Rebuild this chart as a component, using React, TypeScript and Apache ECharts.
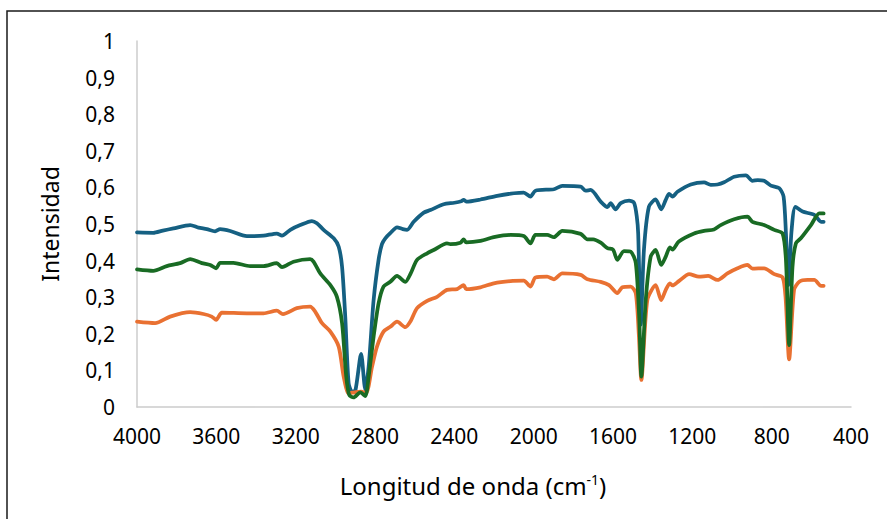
import React, { useEffect, useRef } from "react";
import * as echarts from "echarts";

// Spectra: [wavenumber (cm-1), intensity]
const serieAzul: [number, number][] = [
  [4000, 0.477], [3918, 0.476], [3870, 0.482], [3816, 0.488], [3732, 0.497], [3690, 0.490],
  [3648, 0.486], [3606, 0.480], [3581, 0.486], [3530, 0.481], [3446, 0.467], [3362, 0.468],
  [3295, 0.474], [3269, 0.468], [3227, 0.484], [3177, 0.497], [3118, 0.508], [3093, 0.502],
  [3059, 0.484], [3008, 0.461], [2983, 0.438], [2966, 0.383], [2950, 0.247], [2933, 0.065],
  [2916, 0.042], [2899, 0.045], [2870, 0.145], [2849, 0.048], [2832, 0.110], [2807, 0.292],
  [2782, 0.402], [2765, 0.445], [2748, 0.461], [2723, 0.475], [2689, 0.491], [2660, 0.486],
  [2638, 0.484], [2605, 0.506], [2554, 0.531], [2521, 0.538], [2454, 0.554], [2400, 0.558],
  [2365, 0.562], [2353, 0.566], [2340, 0.561], [2268, 0.567], [2184, 0.577], [2100, 0.584],
  [2050, 0.586], [2016, 0.575], [1991, 0.591], [1898, 0.595], [1856, 0.604], [1763, 0.602],
  [1738, 0.591], [1713, 0.593], [1662, 0.561], [1628, 0.546], [1612, 0.557], [1587, 0.540],
  [1561, 0.557], [1519, 0.564], [1494, 0.558], [1480, 0.520], [1473, 0.474], [1460, 0.225],
  [1444, 0.429], [1419, 0.547], [1385, 0.567], [1357, 0.540], [1334, 0.566], [1317, 0.582],
  [1300, 0.575], [1275, 0.588], [1208, 0.608], [1141, 0.614], [1107, 0.607], [1073, 0.608],
  [1040, 0.614], [989, 0.629], [930, 0.633], [897, 0.618], [870, 0.620], [838, 0.618],
  [804, 0.605], [762, 0.598], [740, 0.575], [728, 0.474], [716, 0.333], [700, 0.480],
  [680, 0.547], [644, 0.534], [585, 0.525], [551, 0.506], [538, 0.506],
];

const serieVerde: [number, number][] = [
  [4000, 0.376], [3918, 0.372], [3850, 0.385], [3783, 0.393], [3732, 0.404], [3673, 0.393],
  [3631, 0.388], [3601, 0.379], [3581, 0.394], [3514, 0.394], [3429, 0.385], [3362, 0.385],
  [3295, 0.393], [3269, 0.382], [3211, 0.397], [3127, 0.404], [3110, 0.397], [3076, 0.365],
  [3025, 0.333], [2992, 0.301], [2966, 0.229], [2945, 0.083], [2930, 0.033], [2908, 0.026],
  [2874, 0.040], [2849, 0.030], [2832, 0.083], [2807, 0.192], [2782, 0.283], [2757, 0.329],
  [2723, 0.342], [2689, 0.358], [2647, 0.342], [2620, 0.365], [2588, 0.402], [2537, 0.420],
  [2504, 0.429], [2437, 0.447], [2420, 0.445], [2369, 0.449], [2353, 0.458], [2340, 0.450],
  [2268, 0.454], [2201, 0.464], [2117, 0.470], [2050, 0.467], [2016, 0.447], [1991, 0.470],
  [1932, 0.470], [1898, 0.464], [1856, 0.481], [1763, 0.473], [1729, 0.458], [1700, 0.458],
  [1662, 0.449], [1628, 0.434], [1600, 0.430], [1578, 0.402], [1545, 0.426], [1510, 0.424],
  [1485, 0.393], [1468, 0.247], [1457, 0.083], [1435, 0.292], [1410, 0.411], [1385, 0.429],
  [1357, 0.388], [1334, 0.411], [1313, 0.436], [1300, 0.430], [1268, 0.452], [1191, 0.474],
  [1141, 0.481], [1091, 0.485], [1057, 0.497], [989, 0.513], [922, 0.520], [897, 0.506],
  [838, 0.497], [787, 0.484], [745, 0.474], [728, 0.402], [712, 0.169], [695, 0.383],
  [678, 0.447], [653, 0.461], [602, 0.497], [560, 0.529], [538, 0.529],
];

const serieNaranja: [number, number][] = [
  [4000, 0.233], [3909, 0.229], [3833, 0.247], [3732, 0.259], [3665, 0.254], [3623, 0.247],
  [3601, 0.238], [3572, 0.258], [3446, 0.256], [3362, 0.256], [3295, 0.263], [3264, 0.254],
  [3194, 0.270], [3127, 0.274], [3101, 0.260], [3067, 0.229], [3025, 0.206], [2983, 0.165],
  [2958, 0.083], [2933, 0.037], [2916, 0.039], [2870, 0.042], [2845, 0.038], [2815, 0.110],
  [2790, 0.165], [2757, 0.206], [2723, 0.219], [2689, 0.233], [2647, 0.218], [2620, 0.235],
  [2588, 0.270], [2537, 0.290], [2487, 0.301], [2437, 0.320], [2386, 0.322], [2353, 0.333],
  [2340, 0.322], [2268, 0.327], [2201, 0.338], [2117, 0.344], [2050, 0.345], [2016, 0.329],
  [1991, 0.354], [1932, 0.356], [1898, 0.349], [1856, 0.365], [1763, 0.361], [1729, 0.349],
  [1662, 0.342], [1620, 0.333], [1578, 0.311], [1553, 0.327], [1510, 0.329], [1485, 0.310],
  [1470, 0.200], [1457, 0.074], [1427, 0.292], [1385, 0.333], [1357, 0.292], [1334, 0.320],
  [1313, 0.338], [1300, 0.332], [1268, 0.344], [1216, 0.363], [1167, 0.356], [1120, 0.358],
  [1073, 0.347], [1023, 0.365], [972, 0.379], [922, 0.388], [897, 0.378], [838, 0.379],
  [787, 0.363], [745, 0.354], [730, 0.300], [712, 0.130], [687, 0.320], [661, 0.342],
  [619, 0.347], [585, 0.347], [551, 0.331], [538, 0.331],
];

const FONT = "'Noto Sans', 'Open Sans', sans-serif";

export default function App() {
  const ref = useRef<HTMLDivElement>(null);

  useEffect(() => {
    document.body.style.margin = "0";
    if (!ref.current) return;
    const chart = echarts.init(ref.current, null, { renderer: "svg" });

    const line = (name: string, data: [number, number][], color: string) => ({
      name,
      type: "line",
      data,
      showSymbol: false,
      smooth: 0.25,
      lineStyle: { color, width: 3.75, cap: "round", join: "round" },
      itemStyle: { color },
    });

    chart.setOption({
      animation: false,
      backgroundColor: "#ffffff",
      grid: { left: 137, right: 36, top: 41, bottom: 112 },
      xAxis: {
        type: "value",
        inverse: true,
        min: 400,
        max: 4000,
        interval: 400,
        axisLine: { show: true, lineStyle: { color: "#cccccc", width: 1.5 } },
        axisTick: { show: false },
        splitLine: { show: false },
        axisLabel: {
          color: "#000",
          fontSize: 21,
          fontFamily: FONT,
          margin: 18,
          formatter: (v: number) => String(v),
        },
        name: "Longitud de onda (cm{sup|-1})",
        nameLocation: "middle",
        nameGap: 65,
        nameTextStyle: {
          color: "#000",
          fontSize: 24,
          fontFamily: FONT,
          padding: [0, 42, 0, 0],
          rich: {
            sup: { fontSize: 14, fontFamily: FONT, color: "#000", verticalAlign: "top", padding: [0, 0, 12, 0] },
          },
        },
      },
      yAxis: {
        type: "value",
        min: 0,
        max: 1,
        interval: 0.1,
        axisLine: { show: true, lineStyle: { color: "#cccccc", width: 1.5 } },
        axisTick: { show: false },
        splitLine: { show: false },
        axisLabel: {
          color: "#000",
          fontSize: 21,
          fontFamily: FONT,
          margin: 22,
          formatter: (v: number) => String(Number(v.toFixed(1))).replace(".", ","),
        },
        name: "Intensidad",
        nameLocation: "middle",
        nameGap: 76,
        nameTextStyle: { color: "#000", fontSize: 23, fontFamily: FONT },
      },
      graphic: [
        {
          type: "rect",
          shape: { x: 7, y: 11, width: 2000, height: 2000 },
          style: { fill: "none", stroke: "#1a1a1a", lineWidth: 1.5 },
          silent: true,
        },
      ],
      series: [
        line("Muestra 1", serieAzul, "#156082"),
        line("Muestra 3", serieNaranja, "#E97132"),
        line("Muestra 2", serieVerde, "#196B24"),
      ],
    });

    return () => chart.dispose();
  }, []);

  return <div ref={ref} style={{ width: 887, height: 519 }} />;
}
